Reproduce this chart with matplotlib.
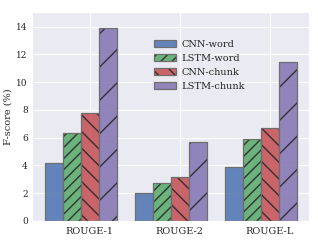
import numpy as np
import matplotlib
matplotlib.use("Agg")
import matplotlib.pyplot as plt
import seaborn as sns

categories = ["ROUGE-1", "ROUGE-2", "ROUGE-L"]
series_names = ["CNN-word", "LSTM-word", "CNN-chunk", "LSTM-chunk"]
cnn_word = [4.2, 2.0, 3.87]
lstm_word = [6.35, 2.71, 5.88]
cnn_chunk = [7.8, 3.19, 6.68]
lstm_chunk = [13.9, 5.67, 11.45]

sns.set_style("darkgrid")
plt.rcParams['font.family'] = ['DejaVu Serif']
plt.rcParams['hatch.linewidth'] = 1.0

colors = ["#4C72B0", "#55A868", "#C44E52", "#8172B2"]
hatches = ["", "///", "\\\\", "/"]
values = [cnn_word, lstm_word, cnn_chunk, lstm_chunk]

fig = plt.figure(figsize=(3.18, 2.41), dpi=100)
ax = fig.add_axes([0.1006, 0.083, 0.8714, 0.867])
x = np.arange(len(categories))
w = 0.2
handles = []
for i, (name, vals) in enumerate(zip(series_names, values)):
    b1 = ax.bar(x + (i - 2) * w, vals, w, color=colors[i], hatch=hatches[i],
                edgecolor="#222222", linewidth=0, alpha=0.85)
    b2 = ax.bar(x + (i - 2) * w, vals, w, fill=False,
                edgecolor="#6e6e6e", linewidth=0.9)
    handles.append((b1[0], b2[0]))
ax.set_xticks(x)
ax.set_xticklabels(categories, fontsize=7)
ax.tick_params(axis='y', labelsize=6.5, pad=3, length=0)
ax.tick_params(axis='x', pad=4, length=0)
ax.set_yticks(range(0, 15, 2))
ax.set_ylim(0, 15.05)
ax.set_ylabel("F-score (%)", fontsize=7, labelpad=3)
ax.legend(handles, series_names, loc='center left', bbox_to_anchor=(0.41, 0.745), fontsize=7,
          frameon=False, handlelength=2.2, labelspacing=0.5, handletextpad=0.6)
fig.savefig("out.png", dpi=100)
